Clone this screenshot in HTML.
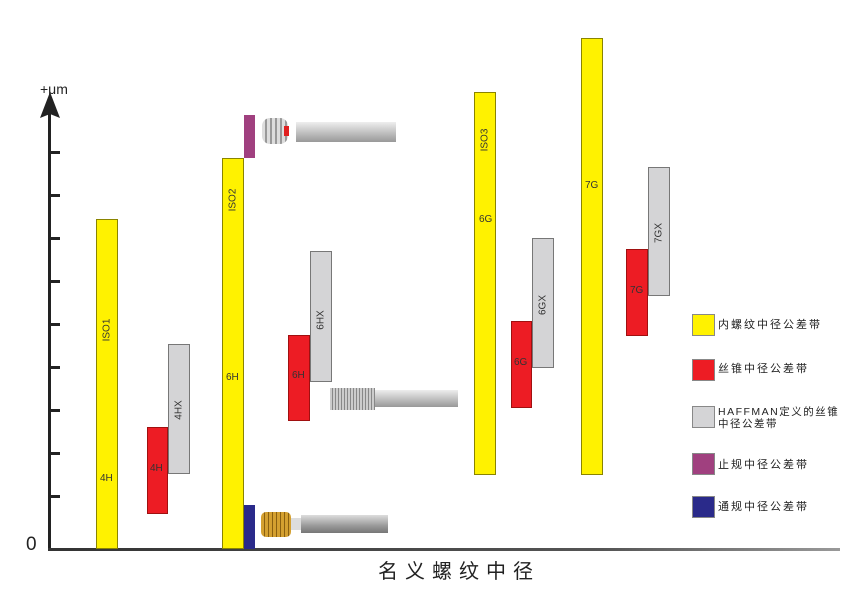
<!DOCTYPE html>
<html><head><meta charset="utf-8"><style>
body{margin:0;width:864px;height:594px;background:#fff;position:relative;overflow:hidden;font-family:"Liberation Sans","Noto Sans CJK SC",sans-serif}
.b{position:absolute;box-sizing:border-box;border:1px solid #555}
.y{background:#fff200;border-color:#8a8400}
.r{background:#ed1c24;border-color:#a01010}
.g{background:#d4d4d6;border-color:#777}
.t{position:absolute;font-size:10px;color:#333;white-space:nowrap}
.v{position:absolute;font-size:10px;color:#333;white-space:nowrap;transform:translate(-50%,-50%) rotate(-90deg)}
.tk{position:absolute;left:50px;width:10px;height:3px;background:#222}
.lg{position:absolute;left:718px;font-size:11px;color:#222;letter-spacing:2px;line-height:12px}
.lb{position:absolute;left:692px;width:23px;height:22px;box-sizing:border-box;border:1px solid #888}
</style></head><body>
<div style="position:absolute;left:48px;top:108px;width:3px;height:443px;background:#222"></div>
<svg style="position:absolute;left:40px;top:92px" width="20" height="28"><polygon points="10,0 20,26 10,22 0,26" fill="#222"/></svg>
<div style="position:absolute;left:48px;top:548px;width:792px;height:3px;background:linear-gradient(90deg,#333,#555 70%,#999)"></div>
<div class="t" style="left:40px;top:81px;font-size:14px;color:#222">+μm</div>
<div class="t" style="left:26px;top:534px;font-size:19px;color:#222">0</div>
<div class="tk" style="top:151px"></div><div class="tk" style="top:194px"></div><div class="tk" style="top:237px"></div><div class="tk" style="top:280px"></div><div class="tk" style="top:323px"></div><div class="tk" style="top:366px"></div><div class="tk" style="top:409px"></div><div class="tk" style="top:452px"></div><div class="tk" style="top:495px"></div>

<div class="b y" style="left:96px;top:219px;width:22px;height:330px"></div>
<div class="v" style="left:107px;top:330px">ISO1</div><div class="t" style="left:100px;top:473px">4H</div>
<div class="b g" style="left:168px;top:344px;width:22px;height:130px"></div>
<div class="v" style="left:179px;top:410px">4HX</div>
<div class="b r" style="left:147px;top:427px;width:21px;height:87px"></div>
<div class="t" style="left:150px;top:463px">4H</div>

<div class="b y" style="left:222px;top:158px;width:22px;height:391px"></div>
<div class="v" style="left:233px;top:200px">ISO2</div><div class="t" style="left:226px;top:372px">6H</div>
<div style="position:absolute;left:244px;top:115px;width:11px;height:43px;background:#a0407f"></div>
<div style="position:absolute;left:244px;top:505px;width:11px;height:44px;background:#2a2a8a"></div>
<div class="b g" style="left:310px;top:251px;width:22px;height:131px"></div>
<div class="v" style="left:321px;top:320px">6HX</div>
<div class="b r" style="left:288px;top:335px;width:22px;height:86px"></div>
<div class="t" style="left:292px;top:370px">6H</div>

<div class="b y" style="left:474px;top:92px;width:22px;height:383px"></div>
<div class="v" style="left:485px;top:140px">ISO3</div><div class="t" style="left:479px;top:214px">6G</div>
<div class="b g" style="left:532px;top:238px;width:22px;height:130px"></div>
<div class="v" style="left:543px;top:305px">6GX</div>
<div class="b r" style="left:511px;top:321px;width:21px;height:87px"></div>
<div class="t" style="left:514px;top:357px">6G</div>
<div class="b y" style="left:581px;top:38px;width:22px;height:437px"></div>
<div class="t" style="left:585px;top:180px">7G</div>
<div class="b g" style="left:648px;top:167px;width:22px;height:129px"></div>
<div class="v" style="left:659px;top:233px">7GX</div>
<div class="b r" style="left:626px;top:249px;width:22px;height:87px"></div>
<div class="t" style="left:630px;top:285px">7G</div>

<!-- tools -->
<div style="position:absolute;left:262px;top:118px;width:26px;height:26px;border-radius:8px;background:repeating-linear-gradient(90deg,#ddd 0 3px,#999 3px 5px)"></div>
<div style="position:absolute;left:284px;top:126px;width:5px;height:10px;background:#e02020"></div>
<div style="position:absolute;left:296px;top:122px;width:100px;height:20px;background:linear-gradient(#eee,#bbb 60%,#999)"></div>
<div style="position:absolute;left:330px;top:388px;width:45px;height:22px;background:repeating-linear-gradient(90deg,#ccc 0 2px,#888 2px 3px)"></div>
<div style="position:absolute;left:375px;top:390px;width:83px;height:17px;background:linear-gradient(#eee,#bbb 60%,#999)"></div>
<div style="position:absolute;left:261px;top:512px;width:30px;height:25px;border-radius:5px;background:repeating-linear-gradient(90deg,#d4a030 0 3px,#8a6010 3px 4px)"></div>
<div style="position:absolute;left:291px;top:518px;width:10px;height:12px;background:#ddd"></div>
<div style="position:absolute;left:301px;top:515px;width:87px;height:18px;background:linear-gradient(#ddd,#999 60%,#777)"></div>

<!-- legend -->
<div class="lb" style="top:314px;background:#fff200"></div><div class="lg" style="top:319px">内螺纹中径公差带</div>
<div class="lb" style="top:359px;background:#ed1c24"></div><div class="lg" style="top:363px">丝锥中径公差带</div>
<div class="lb" style="top:406px;background:#d4d4d6"></div><div class="lg" style="top:406px;font-size:10.5px;letter-spacing:1.5px">HAFFMAN定义的丝锥<br>中径公差带</div>
<div class="lb" style="top:453px;background:#a0407f"></div><div class="lg" style="top:459px">止规中径公差带</div>
<div class="lb" style="top:496px;background:#2a2a8a"></div><div class="lg" style="top:501px">通规中径公差带</div>

<div class="t" style="left:378px;top:555px;font-size:20px;letter-spacing:7px;color:#222">名义螺纹中径</div>
</body></html>
